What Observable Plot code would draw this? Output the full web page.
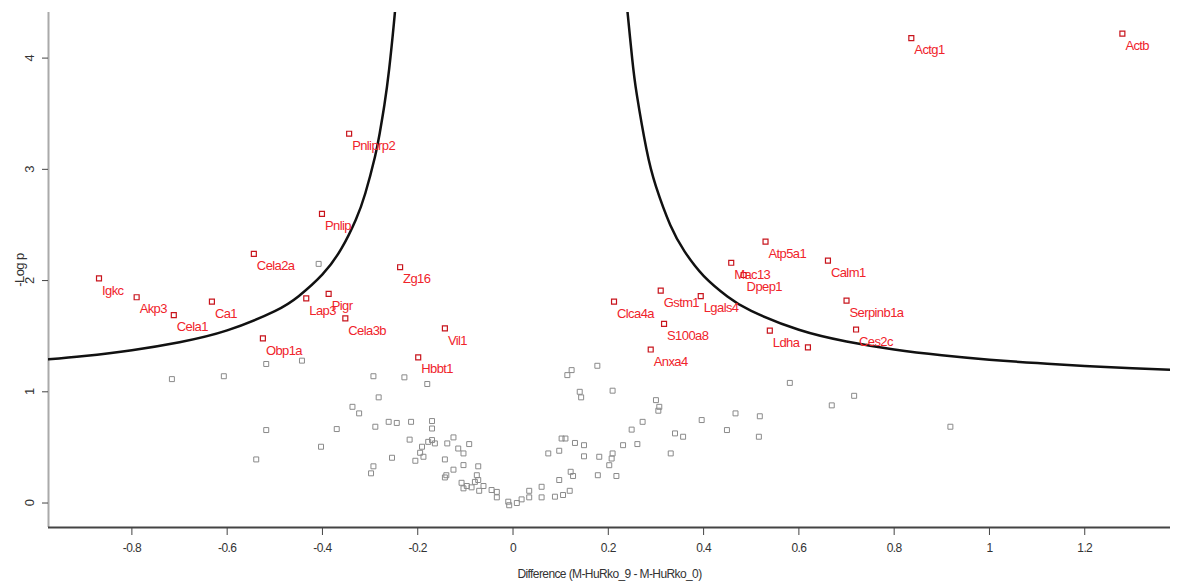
<!DOCTYPE html>
<html>
<head>
<meta charset="utf-8">
<script src="https://cdn.jsdelivr.net/npm/d3@7"></script>
<script src="https://cdn.jsdelivr.net/npm/@observablehq/plot@0.6"></script>
<style>
  html, body { margin: 0; padding: 0; background: #fff; }
  #chart svg { display: block; }
  #chart svg text { letter-spacing: -0.6px; }
</style>
</head>
<body>
<div id="chart"></div>
<script>
// ---- data ----
const xDomain = [-0.975, 1.38];
const yDomain = [-0.22, 4.41];
const xTicks = [-0.8, -0.6, -0.4, -0.2, 0, 0.2, 0.4, 0.6, 0.8, 1, 1.2];
const yTicks = [0, 1, 2, 3, 4];

const geneNames = ["Actb","Actg1","Pnliprp2","Pnlip","Cela2a","Igkc","Akp3","Cela1","Ca1","Obp1a",
  "Lap3","Pigr","Cela3b","Zg16","Vil1","Hbbt1","Clca4a","Gstm1","Lgals4","S100a8","Anxa4",
  "Mac13","Dpep1","Atp5a1","Calm1","Serpinb1a","Ces2c","Ldha",""];
const geneDiff = [1.279, 0.836, -0.344, -0.401, -0.544, -0.869, -0.790, -0.712, -0.632, -0.525,
  -0.434, -0.387, -0.352, -0.237, -0.143, -0.199, 0.212, 0.310, 0.394, 0.317, 0.289,
  0.458, 0.484, 0.530, 0.661, 0.700, 0.720, 0.539, 0.619];
const geneLogP = [4.22, 4.18, 3.32, 2.60, 2.24, 2.02, 1.85, 1.69, 1.81, 1.48,
  1.84, 1.88, 1.66, 2.12, 1.57, 1.31, 1.81, 1.91, 1.86, 1.61, 1.38,
  2.16, 2.05, 2.35, 2.18, 1.82, 1.56, 1.55, 1.40];

const otherDiff = [-0.716,-0.607,-0.518,-0.443,-0.408,-0.293,-0.228,-0.180,-0.282,-0.337,-0.323,
  -0.518,-0.370,-0.289,-0.261,-0.244,-0.214,-0.170,-0.170,-0.403,-0.539,-0.217,
  -0.191,-0.195,-0.188,-0.205,-0.254,-0.170,-0.164,-0.178,-0.138,-0.125,
  -0.115,-0.104,-0.092,-0.143,-0.104,-0.073,-0.293,-0.298,-0.125,-0.140,-0.143,
  -0.076,-0.073,-0.108,-0.104,-0.097,-0.087,-0.080,-0.071,-0.062,-0.045,-0.034,-0.034,
  -0.010,-0.008,0.008,0.018,0.034,0.034,0.060,0.060,0.088,0.105,0.119,0.097,
  0.121,0.126,0.074,0.097,0.102,0.110,0.130,0.149,0.149,0.181,0.209,0.207,0.202,
  0.178,0.217,0.231,0.261,0.249,0.272,0.300,0.307,0.305,0.340,0.357,0.331,
  0.396,0.467,0.518,0.449,0.516,0.581,0.669,0.716,0.918,
  0.177,0.123,0.114,0.140,0.143,0.209];
const otherLogP = [1.114,1.14,1.25,1.28,2.15,1.14,1.13,1.07,0.95,0.865,0.806,
  0.656,0.665,0.686,0.73,0.72,0.73,0.737,0.67,0.506,0.392,0.57,
  0.506,0.452,0.416,0.38,0.407,0.566,0.536,0.55,0.536,0.59,
  0.49,0.446,0.53,0.392,0.341,0.33,0.33,0.267,0.30,0.25,0.23,
  0.25,0.207,0.182,0.132,0.153,0.141,0.19,0.11,0.153,0.117,0.10,0.051,
  0.012,-0.02,0.0,0.033,0.051,0.11,0.146,0.051,0.057,0.072,0.11,0.207,
  0.281,0.243,0.446,0.47,0.58,0.58,0.54,0.52,0.42,0.416,0.446,0.40,0.34,
  0.25,0.243,0.52,0.53,0.66,0.73,0.925,0.865,0.83,0.626,0.596,0.446,
  0.746,0.806,0.78,0.656,0.596,1.08,0.878,0.964,0.686,
  1.234,1.195,1.15,1.0,0.95,1.01];

// significance threshold curves
const curveLeftX = [-0.975,-0.9,-0.8,-0.7,-0.6,-0.5,-0.45,-0.4,-0.36,-0.33,-0.31,-0.29,-0.28,-0.27,-0.26,-0.25,-0.247];
const curveLeftY = [1.292,1.322,1.374,1.446,1.552,1.725,1.859,2.055,2.289,2.547,2.785,3.109,3.32,3.578,3.9,4.314,4.463];
const curveRightX = [0.238,0.24,0.25,0.26,0.28,0.30,0.33,0.36,0.40,0.45,0.5,0.6,0.7,0.8,0.9,1.0,1.1,1.2,1.3,1.38];
const curveRightY = [4.53,4.429,4.0,3.667,3.182,2.846,2.5,2.263,2.043,1.857,1.727,1.558,1.453,1.381,1.329,1.289,1.258,1.233,1.212,1.198];

// ---- build tables ----
const genes = geneNames.map((n, i) => ({name: n, x: geneDiff[i], y: geneLogP[i]}));
const others = otherDiff.map((x, i) => ({x, y: otherLogP[i]}));
const curveL = curveLeftX.map((x, i) => ({x, y: curveLeftY[i]}));
const curveR = curveRightX.map((x, i) => ({x, y: curveRightY[i]}));

const FONT = "'Liberation Sans', Arial, sans-serif";
const fmt = d => String(+d.toFixed(1));

const chart = Plot.plot({
  width: 1177,
  height: 586,
  marginLeft: 48,
  marginRight: 7,
  marginTop: 12,
  marginBottom: 59,
  style: {fontFamily: FONT, fontSize: "12px", color: "#333", background: "#fff"},
  x: {domain: xDomain},
  y: {domain: yDomain},
  marks: [
    Plot.ruleX([xDomain[0]], {stroke: "#aaa", strokeWidth: 2}),
    Plot.ruleY([yDomain[0]], {stroke: "#444", strokeWidth: 2}),
    Plot.axisX({ticks: xTicks, tickFormat: fmt, tickSize: 8, tickPadding: 8, stroke: "#444",
      label: "Difference (M-HuRko_9 - M-HuRko_0)", labelAnchor: "center", labelArrow: "none", labelOffset: 50,
      fontSize: 12}),
    Plot.axisY({ticks: yTicks, tickFormat: fmt, tickSize: 6, tickPadding: 9, tickRotate: -90, stroke: "#444",
      label: "-Log p", labelAnchor: "center", labelArrow: "none", labelOffset: 34, fontSize: 13}),
    Plot.dot(others, {x: "x", y: "y", symbol: "square", r: 2.8, stroke: "#8a8a8a", strokeWidth: 1, fill: "none"}),
    Plot.line(curveL, {x: "x", y: "y", stroke: "#111", strokeWidth: 2.5, curve: "natural", clip: true}),
    Plot.line(curveR, {x: "x", y: "y", stroke: "#111", strokeWidth: 2.5, curve: "natural", clip: true}),
    Plot.dot(genes, {x: "x", y: "y", symbol: "square", r: 2.8, stroke: "#c8141c", strokeWidth: 1.2, fill: "none"}),
    Plot.text(genes, {x: "x", y: "y", text: "name", textAnchor: "start", dx: 3, dy: 12,
      fill: "#f0232b", fontSize: 13, fontFamily: FONT})
  ]
});
document.getElementById("chart").appendChild(chart);
</script>
</body>
</html>
